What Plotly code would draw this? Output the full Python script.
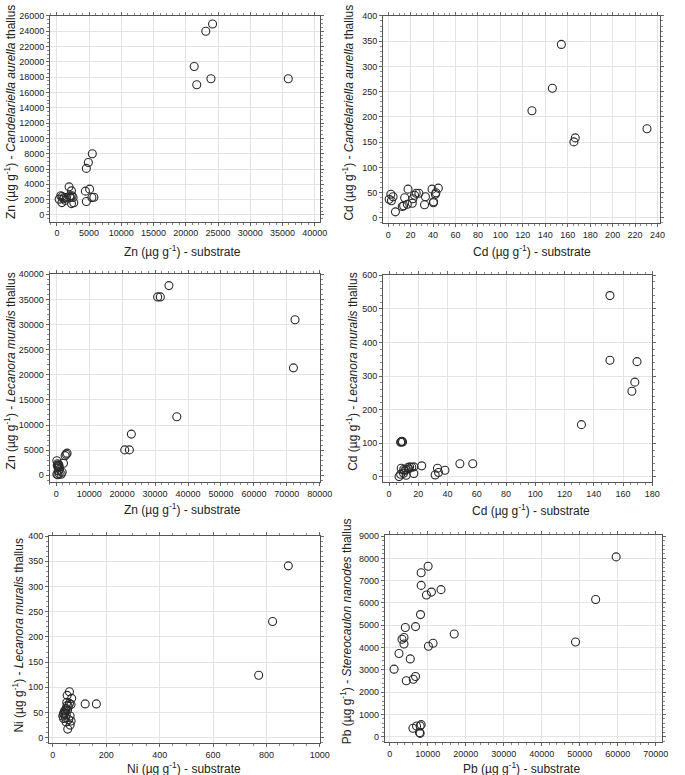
import plotly.graph_objects as go

# ---------------- data ----------------
# Panel 1: Zn, Candelariella aurella
zn_sub_ca = [24150, 23100, 21300, 21700, 23900, 35900, 5490, 4880, 4570, 4420, 5080, 4570, 5430, 5740,
             354, 815, 1120, 770, 1490, 1890, 2260, 2000, 2350, 2510, 2260, 2620, 1000, 1300, 600, 2100]
zn_th_ca = [24950, 24000, 19400, 17000, 17800, 17800, 8000, 6860, 6080, 3110, 3370, 1750, 2270, 2320,
            2060, 2400, 2270, 1610, 2270, 3670, 3150, 2490, 2490, 2270, 1480, 1600, 2100, 1900, 2500, 2300]

# Panel 2: Cd, Candelariella aurella
cd_sub_ca = [154.3, 146.3, 128.1, 165.5, 166.7, 230.6, 2.4, 4.4, 0.9, 2.9, 6.5, 12.6, 13.8, 17.7, 14.7,
             17.1, 21.5, 22.1, 23.5, 25.0, 27.4, 33.2, 32.4, 39.1, 40.3, 40.5, 42.1, 42.6, 44.7]
cd_th_ca = [343.6, 256.7, 212.3, 150.6, 158.5, 176.5, 47, 42, 37, 34, 12, 22.5, 24, 57, 40,
            27, 29, 38, 45, 49, 49, 42, 26, 57, 30, 32, 47, 50, 59]

# Panel 3: Zn, Lecanora muralis
zn_sub_lm = [34200, 30780, 31590, 72480, 72000, 36600, 22800, 20790, 22200, 3300, 3000, 2700, 2200,
             180, 300, 500, 700, 900, 600, 800, 400, 200, 500, 900, 1500, 1800, 600, 1000]
zn_th_lm = [37740, 35490, 35490, 30950, 21370, 11640, 8190, 5050, 5050, 4400, 4200, 3900, 2400,
            2900, 2000, 1800, 1900, 1700, 1500, 2100, 2300, 200, 100, 300, 200, 600, 900, 1200]

# Panel 4: Cd, Lecanora muralis
cd_sub_lm = [151, 151, 169.5, 168, 166, 131.5, 8.3, 8.8, 7.9, 9.2, 8.3, 6.8, 7.9, 9.9, 10.6, 11.5,
             12.8, 14.0, 15.5, 16.9, 16.9, 22.3, 33.1, 31.5, 33.8, 38.2, 48.4, 57.2, 11.7, 10.0, 13.5]
cd_th_lm = [539.5, 347, 343, 282, 255, 155.5, 104.7, 106, 103, 104, 26, 1, 8, 11, 18, 22,
            28, 30, 29, 30, 10, 33, 26, 6, 13, 20, 39, 39, 5, 22, 24]

# Panel 5: Ni, Lecanora muralis
ni_sub_lm = [882, 823, 771, 121, 163, 62, 53.5, 70.5, 62, 68, 53.5, 49.7, 43.4, 39.7, 37.1, 47.1,
             64.6, 59.4, 68.3, 49.7, 64.6, 55.7, 45, 50, 42, 55, 58, 48, 40, 52]
ni_th_lm = [341, 230.6, 124, 67, 67, 91, 84, 78, 68, 66, 64, 58, 53, 48, 43, 40,
            43, 36, 33, 31, 25, 17, 50, 45, 46, 55, 62, 54, 38, 70]

# Panel 6: Pb, Stereocaulon nanodes
pb_sub_sn = [59570, 54170, 48870, 16960, 13480, 10960, 9650, 10090, 8260, 8260, 8090, 6780, 4090,
             3740, 3220, 3740, 2430, 5390, 1130, 4350, 6170, 6780, 10170, 11390, 6090, 7040, 8000,
             8260, 7830, 8000]
pb_th_sn = [8070, 6160, 4250, 4610, 6600, 6490, 6360, 7650, 7360, 6790, 5480, 4940, 4900,
            4450, 4370, 4160, 3730, 3490, 3030, 2510, 2580, 2700, 4060, 4190, 380, 480, 480,
            540, 180, 150]

SUP = "(\u00b5g g<sup>-1</sup>)"
panels = [
    dict(x=zn_sub_ca, y=zn_th_ca, xt=f"Zn {SUP} - substrate",
         yt=f"Zn {SUP} - <i>Candelariella aurella</i> thallus",
         xr=[-1065, 40790], yr=[-870, 26000], xd=5000, yd=2000, box=(51, 326, 11, 218),
         xtp=(186, 248), ytp=(10, 107)),
    dict(x=cd_sub_ca, y=cd_th_ca, xt=f"Cd {SUP} - substrate",
         yt=f"Cd {SUP} - <i>Candelariella aurella</i> thallus",
         xr=[-4.5, 242.4], yr=[-10.6, 400], xd=20, yd=50, box=(390.5, 673, 11, 219.7),
         xtp=(542, 248), ytp=(355, 108)),
    dict(x=zn_sub_lm, y=zn_th_lm, xt=f"Zn {SUP} - substrate",
         yt=f"Zn {SUP} - <i>Lecanora muralis</i> thallus",
         xr=[-2030, 80000], yr=[-1320, 40000], xd=10000, yd=5000, box=(50.5, 326, 271, 480),
         xtp=(186, 507.5), ytp=(10, 368)),
    dict(x=cd_sub_lm, y=cd_th_lm, xt=f"Cd {SUP} - substrate",
         yt=f"Cd {SUP} - <i>Lecanora muralis</i> thallus",
         xr=[-4.1, 180], yr=[-14.8, 600], xd=20, yd=100, box=(390.5, 665, 272, 480),
         xtp=(541, 508.5), ytp=(358, 369)),
    dict(x=ni_sub_lm, y=ni_th_lm, xt=f"Ni {SUP} - substrate",
         yt=f"Ni {SUP} - <i>Lecanora muralis</i> thallus",
         xr=[-14.3, 1000], yr=[-10, 400], xd=200, yd=50, box=(50, 326, 534.6, 742.5),
         xtp=(188, 767.5), ytp=(18, 635)),
    dict(x=pb_sub_sn, y=pb_th_sn, xt=f"Pb {SUP} - substrate",
         yt=f"Pb {SUP} - <i>Stereocaulon nanodes</i> thallus",
         xr=[-1320, 71730], yr=[-240, 9045], xd=10000, yd=1000, box=(392.2, 675.2, 533.6, 741.8),
         xtp=(532, 767.5), ytp=(353, 630)),
]

W, H = 685, 775


def fx(px):
    return px / W


def fy(py):
    return 1 - py / H


FONT = "Liberation Sans, Arial, sans-serif"
fig = go.Figure()
layout = {}
annotations = []
for i, p in enumerate(panels, start=1):
    sfx = "" if i == 1 else str(i)
    fig.add_trace(go.Scatter(
        x=p["x"], y=p["y"], mode="markers", xaxis="x" + sfx, yaxis="y" + sfx,
        marker=dict(symbol="circle-open", size=8, color="#2a2a2a", line=dict(width=1.1)),
        showlegend=False, hoverinfo="x+y"))
    l, r, t, b = p["box"]
    common = dict(showline=True, linecolor="#555", linewidth=1, mirror="ticks",
                  showgrid=True, gridcolor="#e3e3e3", gridwidth=1, zeroline=False,
                  ticks="outside", ticklen=3, tickcolor="#666",
                  minor=dict(ticks="outside", ticklen=2, tickcolor="#888", showgrid=False),
                  tickformat="d",
                  tickfont=dict(family=FONT, size=9, color="#222"))
    layout["xaxis" + sfx] = dict(common, domain=[fx(l), fx(r)], anchor="y" + sfx,
                                 range=p["xr"], dtick=p["xd"], tick0=0)
    layout["yaxis" + sfx] = dict(common, domain=[fy(b), fy(t)], anchor="x" + sfx,
                                 range=p["yr"], dtick=p["yd"], tick0=0)
    annotations.append(dict(text=p["xt"], x=fx(p["xtp"][0]), y=fy(p["xtp"][1]),
                            xref="paper", yref="paper", xanchor="center", yanchor="middle",
                            showarrow=False, font=dict(family=FONT, size=12, color="#222")))
    annotations.append(dict(text=p["yt"], x=fx(p["ytp"][0]), y=fy(p["ytp"][1]),
                            xref="paper", yref="paper", xanchor="center", yanchor="middle",
                            textangle=-90, showarrow=False,
                            font=dict(family=FONT, size=12, color="#222")))

fig.update_layout(width=W, height=H, margin=dict(l=0, r=0, t=0, b=0),
                  plot_bgcolor="white", paper_bgcolor="white",
                  annotations=annotations, **layout)
# remove the default page margin and any scrollbars so the figure fills the window exactly
fig.write_html("out.html", config={"displayModeBar": False},
               post_script="document.body.style.margin='0';"
                           "document.documentElement.style.overflow='hidden';"
                           "document.body.style.overflow='hidden';")
